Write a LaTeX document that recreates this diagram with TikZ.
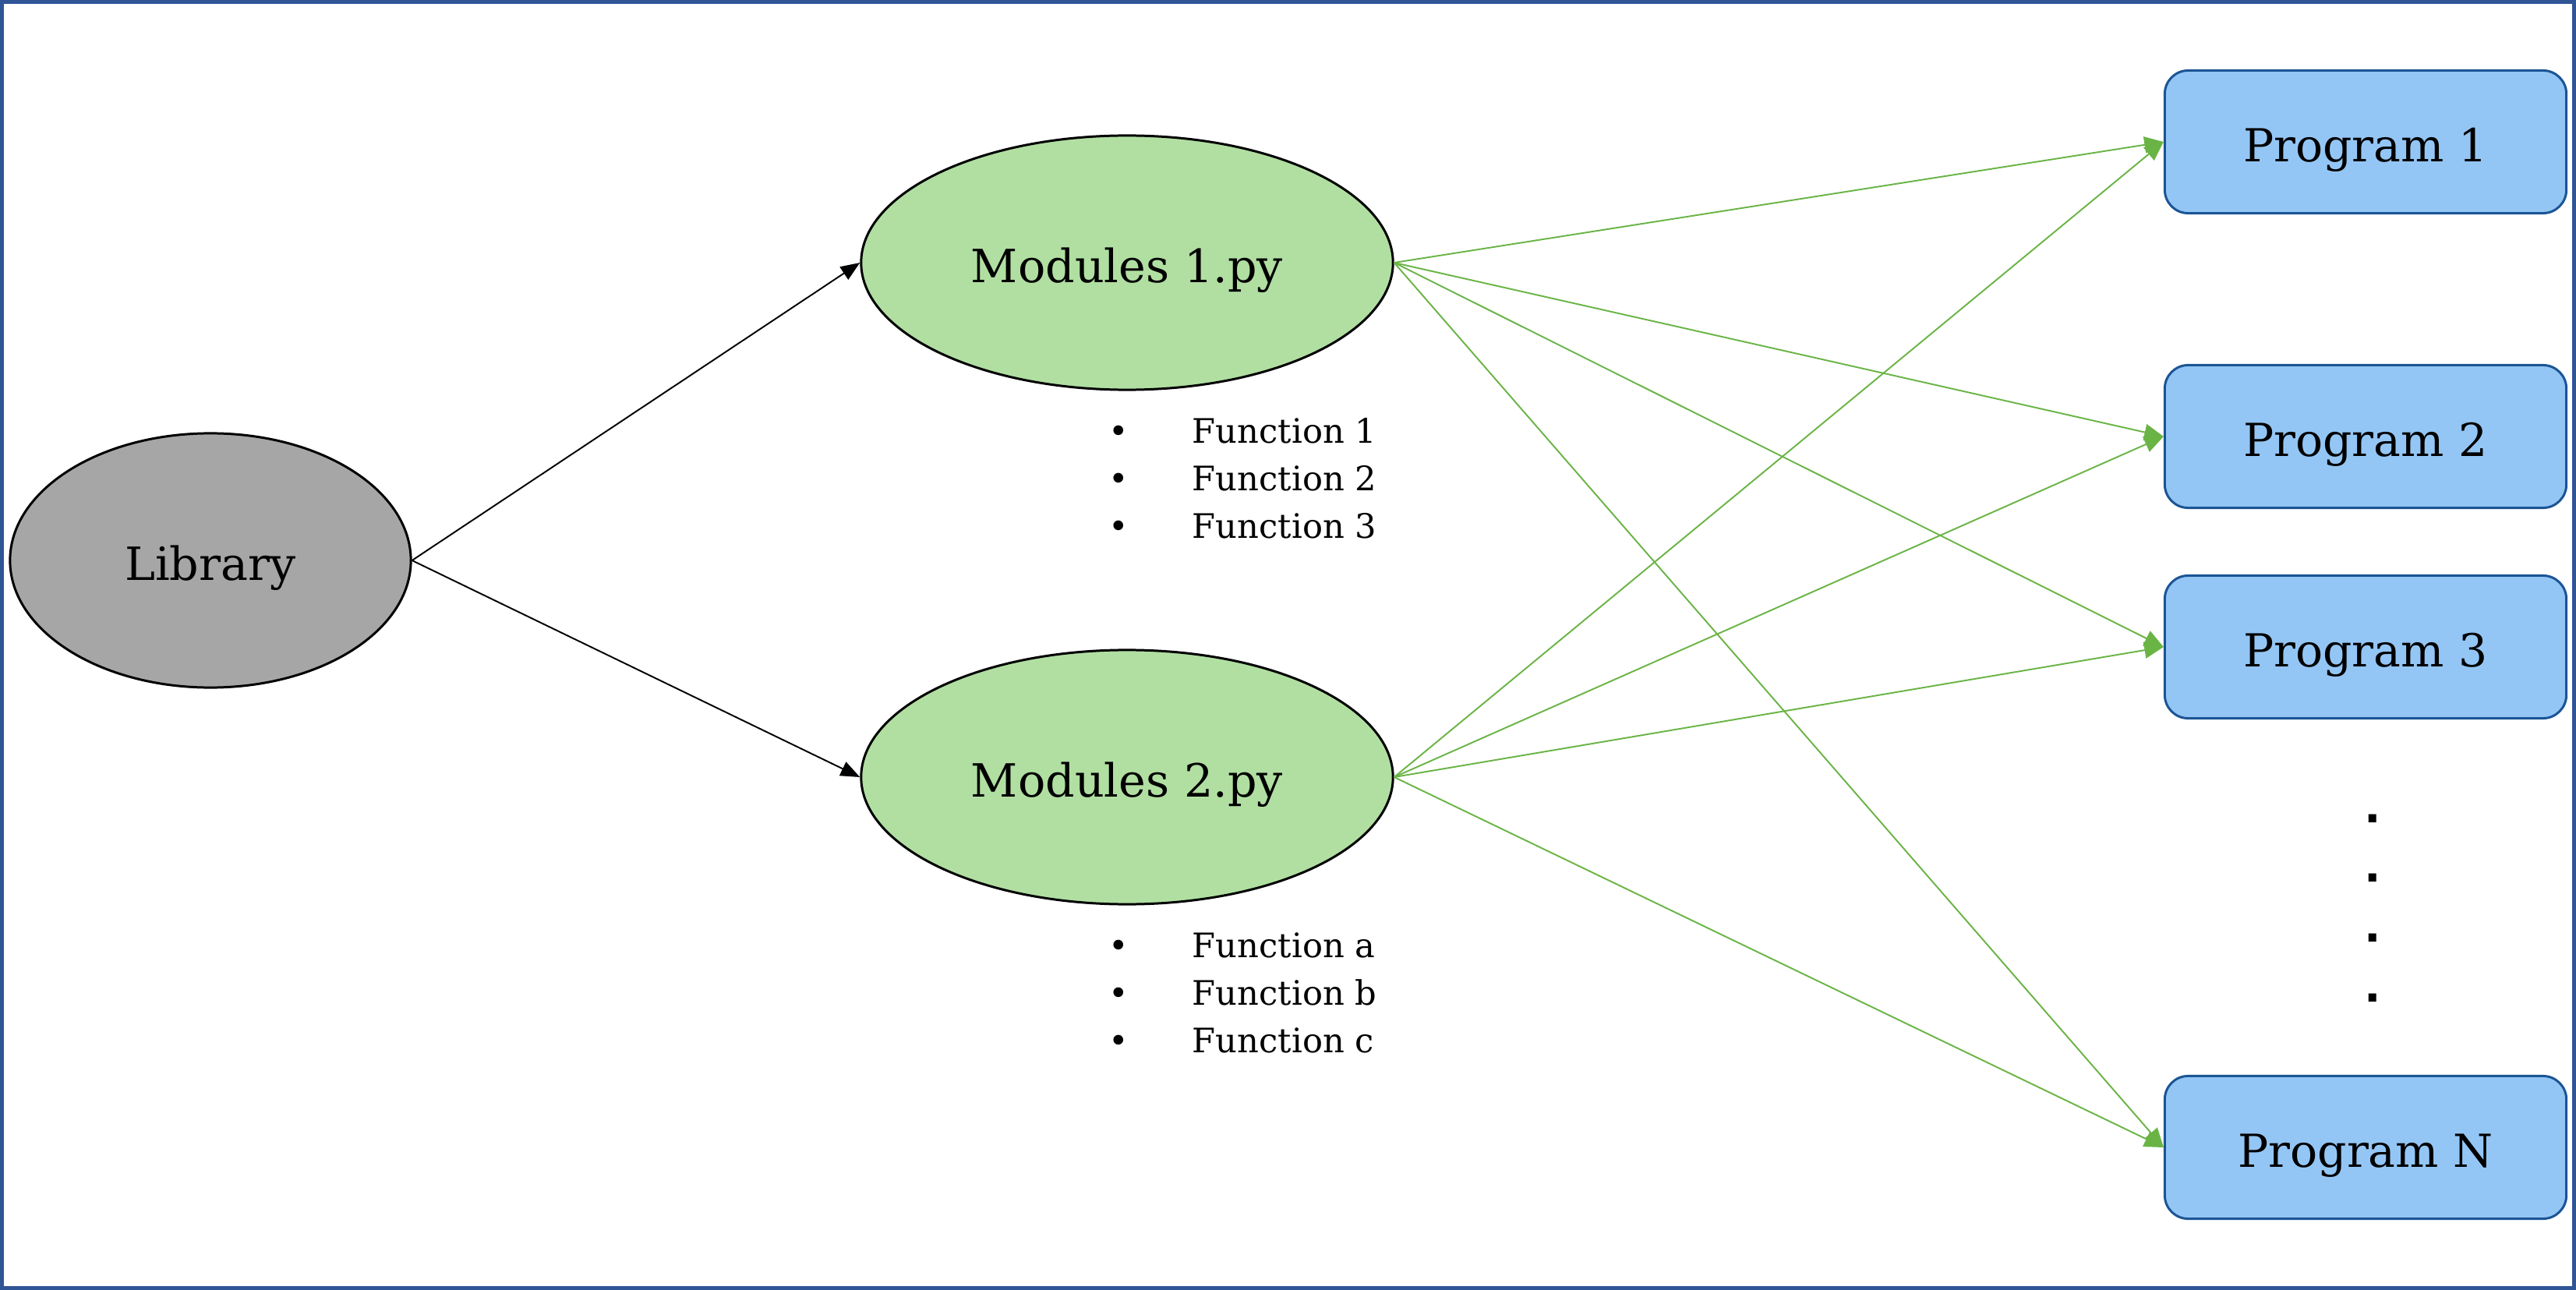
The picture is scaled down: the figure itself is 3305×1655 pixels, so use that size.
\documentclass[tikz,border=0pt]{standalone}
\usepackage{fontspec}
\setmainfont{DejaVu Serif}
\newfontfamily\dotfont{Liberation Sans}
\usetikzlibrary{shapes.geometric,arrows.meta}
\definecolor{frameblue}{HTML}{2F5597}
\definecolor{modgreen}{HTML}{B1DFA2}
\definecolor{libgrey}{HTML}{A6A6A6}
\definecolor{progfill}{HTML}{94C6F5}
\definecolor{progdraw}{HTML}{1B5595}
\definecolor{arrgreen}{HTML}{6AB446}
\tikzset{
  ell/.style={ellipse, draw=black, line width=0.85pt, inner sep=0pt,
    minimum height=3.26cm, font=\fontsize{16.7}{20}\selectfont,
    text height=14.5pt, text depth=0pt},
  modnode/.style={ell, fill=modgreen, minimum width=6.82cm},
  libnode/.style={ell, fill=libgrey, minimum width=5.14cm},
  prognode/.style={draw=progdraw, fill=progfill, line width=0.85pt,
    rounded corners=0.3cm, minimum width=5.15cm, minimum height=1.83cm,
    inner sep=0pt, font=\fontsize{16.6}{20}\selectfont,
    text height=14.5pt, text depth=0pt},
  funclist/.style={anchor=west, align=left, inner sep=0pt,
    font=\fontsize{12.3}{17.4}\selectfont},
  blackarrow/.style={draw=black, line width=0.55pt,
    -{Triangle[length=7pt,width=5.5pt]}},
  greenarrow/.style={draw=arrgreen, line width=0.55pt,
    -{Triangle[length=7pt,width=6pt]}},
}
\newcommand{\bitem}[1]{\makebox[30.5pt][l]{\textbullet}#1}
\begin{document}
\begin{tikzpicture}[x=0.01cm,y=-0.01cm]
\useasboundingbox (0,0) rectangle (3305,1655);
\draw[frameblue, line width=1.4pt] (2.5,2.5) rectangle (3302.5,1652.5);

\node[libnode] (lib) at (270,719) {Library};
\node[modnode] (mod1) at (1446,337) {Modules 1.py};
\node[modnode] (mod2) at (1446,997) {Modules 2.py};

\node[funclist] (f1) at (1422,614) {\bitem{Function 1}\\\bitem{Function 2}\\\bitem{Function 3}};
\node[funclist] (f2) at (1422,1274) {\bitem{Function a}\\\bitem{Function b}\\\bitem{Function c}};

\node[prognode] (p1) at (3035,182) {Program 1};
\node[prognode] (p2) at (3035,560) {Program 2};
\node[prognode] (p3) at (3035,830) {Program 3};
\node[prognode] (pn) at (3035,1472) {Program N};

\node[align=center, inner sep=0pt, font=\dotfont\fontsize{20}{21.8}\selectfont\bfseries] (dots) at (3044,1165) {.\\.\\.\\.};

\draw[blackarrow] (lib.east) -- (mod1.west);
\draw[blackarrow] (lib.east) -- (mod2.west);

\foreach \m in {mod1,mod2}{
  \foreach \p in {p1,p2,p3,pn}{
    \draw[greenarrow] (\m.east) -- (\p.west);
  }
}
\end{tikzpicture}
\end{document}
